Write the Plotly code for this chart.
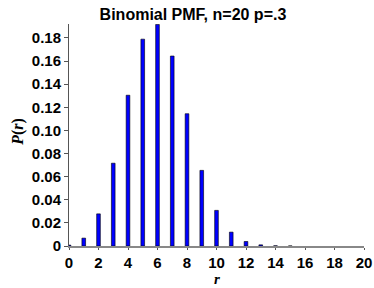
import plotly.graph_objects as go

r_values = list(range(0, 21))
pmf = [0.0008, 0.0068, 0.0278, 0.0716, 0.1304, 0.1789, 0.1916, 0.1643, 0.1144,
       0.0654, 0.0308, 0.0120, 0.0039, 0.0010, 0.0002, 0.00004, None, None, None, None, None]
x_ticks = list(range(0, 21, 2))
y_ticks = [0, 0.02, 0.04, 0.06, 0.08, 0.10, 0.12, 0.14, 0.16, 0.18]
y_tick_labels = ["0", "0.02", "0.04", "0.06", "0.08", "0.10", "0.12", "0.14", "0.16", "0.18"]

fig = go.Figure(go.Bar(
    x=r_values, y=pmf, width=0.25,
    marker=dict(color="#0000ff", line=dict(color="black", width=0.6)),
))

font = "Liberation Sans, Arial, sans-serif"
serif = "Liberation Serif, serif"
fig.update_layout(
    width=374, height=288,
    margin=dict(l=69, r=10, t=24, b=42, autoexpand=False),
    plot_bgcolor="white", paper_bgcolor="white",
    showlegend=False,
    title=dict(text="<b>Binomial PMF, n=20 p=.3</b>", x=0.516, xanchor="center",
               y=0.95, yanchor="middle", yref="container",
               font=dict(family=font, size=16, color="black")),
    font=dict(family=font, color="black"),
    annotations=[
        dict(text="<b><i>r</i></b>", xref="paper", yref="paper", x=0.5, y=-0.148,
             xanchor="center", yanchor="middle", showarrow=False,
             font=dict(family=serif, size=15, color="black")),
        dict(text="<b><i>P</i>(<i>r</i>)</b>", xref="paper", yref="paper", x=-0.173, y=0.514,
             xanchor="center", yanchor="middle", showarrow=False, textangle=-90,
             font=dict(family=serif, size=16, color="black")),
    ],
)
fig.update_xaxes(
    range=[0, 20], tickvals=x_ticks, ticktext=[f"<b>{v}</b>" for v in x_ticks],
    tickfont=dict(size=15, family=font, color="black"),
    showline=True, linecolor="#888888", linewidth=1.5,
    ticks="outside", ticklen=2, tickcolor="#555555",
    showgrid=False, zeroline=False, automargin=False,
)
fig.update_yaxes(
    range=[0, 0.192], tickvals=y_ticks, ticktext=[f"<b>{t}</b>" for t in y_tick_labels],
    tickfont=dict(size=15, family=font, color="black"),
    showline=True, linecolor="#555555", linewidth=1,
    ticks="outside", ticklen=4, tickcolor="#555555",
    showgrid=False, zeroline=False, automargin=False,
)
fig.write_html("out.html", config={"displayModeBar": False},
               post_script="document.body.style.margin='0';document.body.style.overflow='hidden';")
